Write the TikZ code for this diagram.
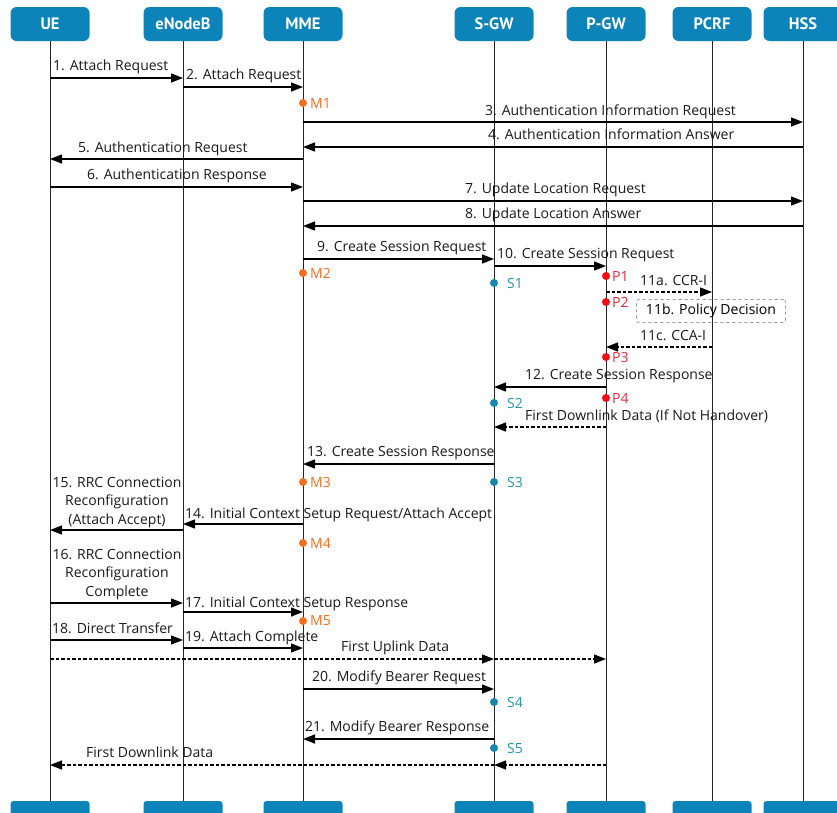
\documentclass[tikz,border=0pt]{standalone}
\usepackage{fontspec}
\setmainfont{Open Sans}
\newfontfamily\headfont{PT Sans}
\usetikzlibrary{arrows.meta}

\definecolor{hwblue}{RGB}{12,132,186}
\definecolor{mmecol}{RGB}{250,108,30}
\definecolor{pgwdot}{RGB}{250,10,20}
\definecolor{pgwtxt}{RGB}{232,40,62}
\definecolor{sgwdot}{RGB}{22,134,172}
\definecolor{sgwtxt}{RGB}{36,150,172}
\definecolor{boxgray}{RGB}{150,150,150}

\tikzset{
  head/.style={fill=hwblue, rounded corners=6pt, minimum width=79pt, minimum height=34pt,
    inner sep=0pt, text=white, font=\headfont\fontsize{16.5}{18}\selectfont\bfseries},
  foot/.style={fill=hwblue, rounded corners=3pt, minimum width=79pt, minimum height=24pt, inner sep=0pt},
  life/.style={draw=black!85, line width=0.8pt},
  msg/.style={draw=black, line width=1.3pt, -{Triangle[length=12pt,width=9pt]}},
  data/.style={msg, dash pattern=on 3.5pt off 2pt},
  lbl/.style={font=\fontsize{14}{15}\selectfont, inner sep=0pt, text=black!90},
  mlbl/.style={lbl, align=center, font=\fontsize{14}{18.5}\selectfont},
  mdot/.style={circle, fill=mmecol, inner sep=0pt, minimum size=8pt},
  pdot/.style={circle, fill=pgwdot, inner sep=0pt, minimum size=8pt},
  sdot/.style={circle, fill=sgwdot, inner sep=0pt, minimum size=8pt},
  mtag/.style={lbl, text=mmecol},
  ptag/.style={lbl, text=pgwtxt},
  stag/.style={lbl, text=sgwtxt},
  decision/.style={draw=boxgray, dashed, line width=0.8pt, rounded corners=2pt,
    minimum width=149pt, minimum height=23pt, inner sep=0pt, font=\fontsize{14}{15}\selectfont}
}

\begin{document}
\begin{tikzpicture}[x=1pt,y=-1pt]
\useasboundingbox (0,0) rectangle (837,812);
\clip (0,0) rectangle (837,812);

% entities at the top
\node[head] (ue)   at (50,24)  {UE};
\node[head] (enb)  at (183,24) {eNodeB};
\node[head] (mme)  at (303,24) {MME};
\node[head] (sgw)  at (494,24) {S-GW};
\node[head] (pgw)  at (606,24) {P-GW};
\node[head] (pcrf) at (712,24) {PCRF};
\node[head] (hss)  at (803,24) {HSS};

% entities at the bottom
\node[foot] (uef)   at (50,813)  {};
\node[foot] (enbf)  at (183,813) {};
\node[foot] (mmef)  at (303,813) {};
\node[foot] (sgwf)  at (494,813) {};
\node[foot] (pgwf)  at (606,813) {};
\node[foot] (pcrff) at (712,813) {};
\node[foot] (hssf)  at (803,813) {};

% lifelines
\foreach \a/\b in {ue/uef, enb/enbf, mme/mmef, sgw/sgwf, pgw/pgwf, pcrf/pcrff, hss/hssf}
  \draw[life] (\a.south) -- (\b.north);

% 1-2 attach
\draw[msg] (ue |- 0,78) -- (enb |- 0,78);
\node[lbl, anchor=base west] (l1) at (53,70) {1. Attach Request};
\draw[msg] (enb |- 0,87) -- (mme |- 0,87);
\node[lbl, anchor=base west] (l2) at (186,79) {2. Attach Request};

\node[mdot] (m1) at (mme |- 0,103) {};
\node[mtag, anchor=west] (m1t) at (310,103) {M1};

% 3-4 authentication info
\draw[msg] (mme |- 0,122) -- (hss |- 0,122);
\node[lbl, anchor=base west] (l3) at (485,115) {3. Authentication Information Request};
\draw[msg] (hss |- 0,147) -- (mme |- 0,147);
\node[lbl, anchor=base west] (l4) at (488,139) {4. Authentication Information Answer};

% 5-6 authentication
\draw[msg] (mme |- 0,159) -- (ue |- 0,159);
\node[lbl, anchor=base west] (l5) at (78,152) {5. Authentication Request};
\draw[msg] (ue |- 0,187) -- (mme |- 0,187);
\node[lbl, anchor=base west] (l6) at (87,179) {6. Authentication Response};

% 7-8 update location
\draw[msg] (mme |- 0,201) -- (hss |- 0,201);
\node[lbl, anchor=base west] (l7) at (465,193) {7. Update Location Request};
\draw[msg] (hss |- 0,226) -- (mme |- 0,226);
\node[lbl, anchor=base west] (l8) at (465,218) {8. Update Location Answer};

% 9-10 create session
\draw[msg] (mme |- 0,259) -- (sgw |- 0,259);
\node[lbl, anchor=base west] (l9) at (317,251) {9. Create Session Request};
\draw[msg] (sgw |- 0,266) -- (pgw |- 0,266);
\node[lbl, anchor=base west] (l10) at (497,258) {10. Create Session Request};

\node[mdot] (m2) at (mme |- 0,273) {};
\node[mtag, anchor=west] (m2t) at (310,273) {M2};
\node[pdot] (p1) at (pgw |- 0,276) {};
\node[ptag, anchor=west] (p1t) at (612,276) {P1};
\node[sdot] (s1) at (sgw |- 0,283) {};
\node[stag, anchor=west] (s1t) at (507,283) {S1};

% 11 policy control
\draw[data] (pgw |- 0,292) -- (pcrf |- 0,292);
\node[lbl, anchor=base west] (l11a) at (640,285) {11a. CCR-I};
\node[pdot] (p2) at (pgw |- 0,302) {};
\node[ptag, anchor=west] (p2t) at (612,302) {P2};
\node[decision] (l11b) at (711,311) {11b. Policy Decision};
\draw[data] (pcrf |- 0,347) -- (pgw |- 0,347);
\node[lbl, anchor=base west] (l11c) at (640,340) {11c. CCA-I};
\node[pdot] (p3) at (pgw |- 0,357) {};
\node[ptag, anchor=west] (p3t) at (612,357) {P3};

% 12 create session response
\draw[msg] (pgw |- 0,387) -- (sgw |- 0,387);
\node[lbl, anchor=base west] (l12) at (525,379) {12. Create Session Response};
\node[pdot] (p4) at (pgw |- 0,398) {};
\node[ptag, anchor=west] (p4t) at (612,398) {P4};
\node[sdot] (s2) at (sgw |- 0,403) {};
\node[stag, anchor=west] (s2t) at (507,403) {S2};

\draw[data] (pgw |- 0,427) -- (sgw |- 0,427);
\node[lbl, anchor=base west] (ldl1) at (525,420) {First Downlink Data (If Not Handover)};

% 13 create session response to MME
\draw[msg] (sgw |- 0,464) -- (mme |- 0,464);
\node[lbl, anchor=base west] (l13) at (307,456) {13. Create Session Response};
\node[mdot] (m3) at (mme |- 0,482) {};
\node[mtag, anchor=west] (m3t) at (310,482) {M3};
\node[sdot] (s3) at (sgw |- 0,482) {};
\node[stag, anchor=west] (s3t) at (507,482) {S3};

% 14-15 context setup and RRC reconfiguration
\draw[msg] (mme |- 0,524) -- (enb |- 0,524);
\node[lbl, anchor=base west] (l14) at (185,518) {14. Initial Context Setup Request/Attach Accept};
\draw[msg] (enb |- 0,530) -- (ue |- 0,530);
\node[mlbl, anchor=south, inner sep=0pt] (l15) at (117,528) {15. RRC Connection\\Reconfiguration\\(Attach Accept)};
\node[mdot] (m4) at (mme |- 0,543) {};
\node[mtag, anchor=west] (m4t) at (310,543) {M4};

% 16-17 completion
\draw[msg] (ue |- 0,603) -- (enb |- 0,603);
\node[mlbl, anchor=south, inner sep=0pt] (l16) at (117,600) {16. RRC Connection\\Reconfiguration\\Complete};
\draw[msg] (enb |- 0,612) -- (mme |- 0,612);
\node[lbl, anchor=base west] (l17) at (185,607) {17. Initial Context Setup Response};
\node[mdot] (m5) at (mme |- 0,621) {};
\node[mtag, anchor=west] (m5t) at (310,621) {M5};

% 18-19 attach complete
\draw[msg] (ue |- 0,640) -- (enb |- 0,640);
\node[lbl, anchor=base west] (l18) at (52,633) {18. Direct Transfer};
\draw[msg] (enb |- 0,648) -- (mme |- 0,648);
\node[lbl, anchor=base west] (l19) at (185,641) {19. Attach Complete};

% uplink data
\draw[data] (ue |- 0,659) -- (sgw |- 0,659);
\draw[data] (sgw |- 0,659) -- (pgw |- 0,659);
\node[lbl, anchor=base west] (lul) at (341,651) {First Uplink Data};

% 20-21 modify bearer
\draw[msg] (mme |- 0,689) -- (sgw |- 0,689);
\node[lbl, anchor=base west] (l20) at (312,681) {20. Modify Bearer Request};
\node[sdot] (s4) at (sgw |- 0,702) {};
\node[stag, anchor=west] (s4t) at (507,702) {S4};
\draw[msg] (sgw |- 0,739) -- (mme |- 0,739);
\node[lbl, anchor=base west] (l21) at (305,731) {21. Modify Bearer Response};
\node[sdot] (s5) at (sgw |- 0,748) {};
\node[stag, anchor=west] (s5t) at (507,748) {S5};

% downlink data
\draw[data] (pgw |- 0,765) -- (sgw |- 0,765);
\draw[data] (sgw |- 0,765) -- (ue |- 0,765);
\node[lbl, anchor=base west] (ldl2) at (86,757) {First Downlink Data};
\end{tikzpicture}
\end{document}
